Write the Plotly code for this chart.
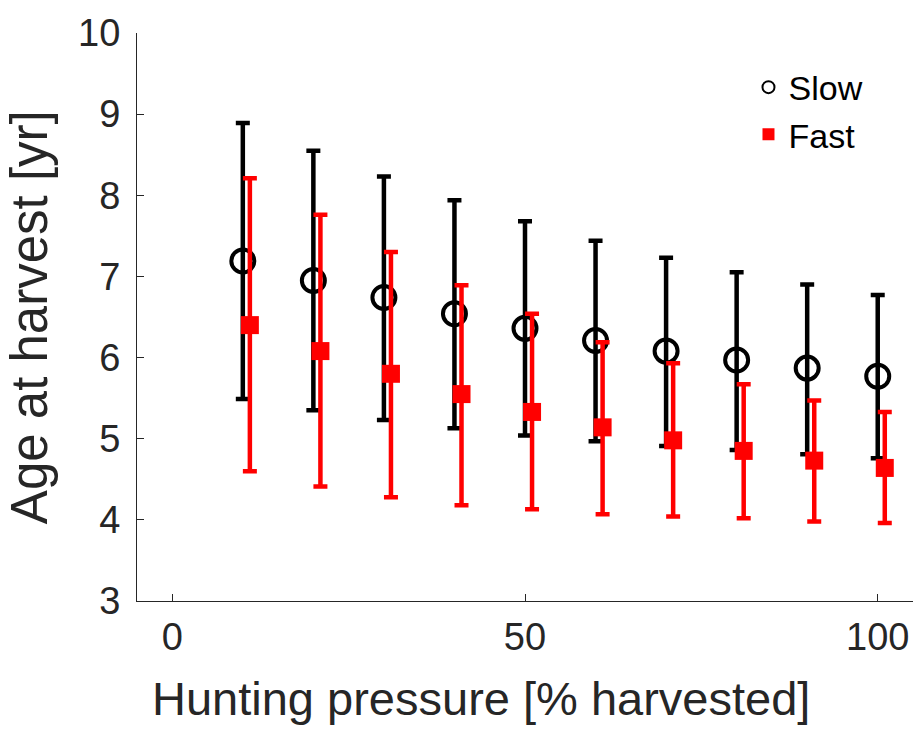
import plotly.graph_objects as go

pressure = [10, 20, 30, 40, 50, 60, 70, 80, 90, 100]

slow_mean = [7.19, 6.95, 6.74, 6.54, 6.36, 6.21, 6.08, 5.97, 5.87, 5.77]
slow_upper = [8.89, 8.55, 8.23, 7.94, 7.68, 7.44, 7.23, 7.05, 6.90, 6.77]
slow_lower = [5.49, 5.35, 5.23, 5.13, 5.04, 4.97, 4.91, 4.86, 4.81, 4.76]

fast_offset = 1.0
fast_mean = [6.40, 6.08, 5.80, 5.55, 5.33, 5.14, 4.98, 4.85, 4.73, 4.64]
fast_upper = [8.21, 7.76, 7.30, 6.89, 6.54, 6.19, 5.93, 5.67, 5.47, 5.33]
fast_lower = [4.60, 4.41, 4.28, 4.18, 4.13, 4.07, 4.04, 4.02, 3.98, 3.96]

x_ticks = [0, 50, 100]
y_ticks = [3, 4, 5, 6, 7, 8, 9, 10]

x_title = "Hunting pressure [% harvested]"
y_title = "Age at harvest [yr]"

FONT = "Liberation Sans, Arial, Helvetica, sans-serif"
AX = "#262626"

fig = go.Figure()

fig.add_trace(go.Scatter(
    x=pressure, y=slow_mean, mode="markers", name="Slow",
    marker=dict(symbol="circle-open", size=23, color="black", line=dict(width=4, color="black")),
    error_y=dict(type="data", symmetric=False,
                 array=[u - m for u, m in zip(slow_upper, slow_mean)],
                 arrayminus=[m - l for l, m in zip(slow_lower, slow_mean)],
                 color="black", thickness=4.5, width=7),
))

fig.add_trace(go.Scatter(
    x=[p + fast_offset for p in pressure], y=fast_mean, mode="markers", name="Fast",
    marker=dict(symbol="square", size=18, color="#ff0000", line=dict(width=0)),
    error_y=dict(type="data", symmetric=False,
                 array=[u - m for u, m in zip(fast_upper, fast_mean)],
                 arrayminus=[m - l for l, m in zip(fast_lower, fast_mean)],
                 color="#ff0000", thickness=4.5, width=7),
))

fig.update_layout(
    width=916, height=730,
    margin=dict(l=137, r=3, t=33, b=129),
    plot_bgcolor="white", paper_bgcolor="white",
    font=dict(family=FONT, size=38, color=AX),
    showlegend=True,
    legend=dict(x=0.788, y=0.955, xanchor="left", yanchor="top",
                font=dict(size=34, color="black"), bgcolor="rgba(0,0,0,0)",
                itemsizing="constant", tracegroupgap=0),
    xaxis=dict(range=[-5, 105], tickvals=x_ticks, ticks="inside", ticklen=7,
               tickcolor=AX, showline=True, linecolor=AX, linewidth=1,
               showgrid=False, zeroline=False, mirror=False,
               ticklabelstandoff=2,
               tickfont=dict(size=38, color=AX)),
    yaxis=dict(range=[3, 10], tickvals=y_ticks, ticks="inside", ticklen=7,
               tickcolor=AX, showline=True, linecolor=AX, linewidth=1,
               showgrid=False, zeroline=False, mirror=False,
               ticklabelstandoff=8,
               tickfont=dict(size=38, color=AX)),
    annotations=[
        dict(text=x_title, xref="paper", yref="paper", x=0.443, y=-0.172,
             xanchor="center", yanchor="middle", showarrow=False,
             font=dict(size=47, color=AX, family=FONT)),
        dict(text=y_title, xref="paper", yref="paper", x=-0.139, y=0.5,
             xanchor="center", yanchor="middle", showarrow=False, textangle=-90,
             font=dict(size=51, color=AX, family=FONT)),
    ],
)

fig.write_html("out.html", config={"displayModeBar": False},
               post_script="document.body.style.margin='0';")
